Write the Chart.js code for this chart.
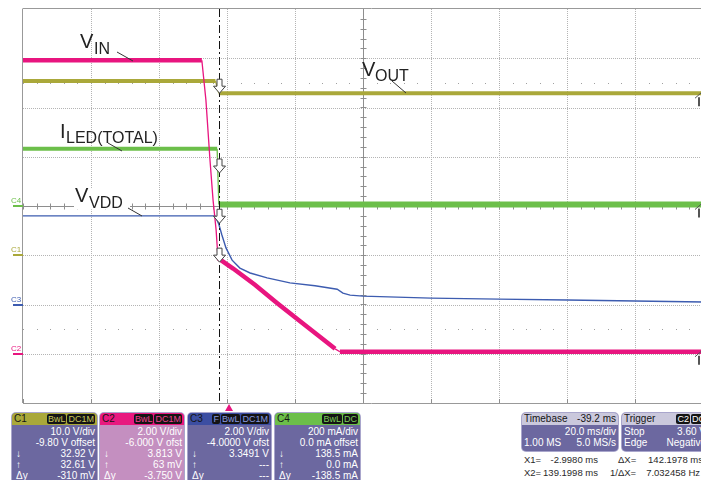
<!DOCTYPE html>
<html>
<head>
<meta charset="utf-8">
<script src="https://cdn.jsdelivr.net/npm/chart.js@4.4.0/dist/chart.umd.min.js"></script>
<style>
body { margin: 0; background: #fff; font-family: "Liberation Sans", Arial, sans-serif; }
#scope { position: relative; width: 701px; height: 480px; overflow: hidden; background: #fff; }
#plot { position: absolute; left: 0; top: 0; }
.panel { position: absolute; top: 413px; height: 75px; border-radius: 4px; overflow: hidden;
         font-size: 10px; color: #fff; background: #6c68a0; box-shadow: 0 0 0 1px #a9a6cc; }
.hdr { height: 12px; line-height: 12px; padding: 0 2px; display: flex; justify-content: space-between; color: #151515; margin-bottom: 1px; }
.row { height: 11px; line-height: 11px; padding: 0 2px 0 4px; display: flex; justify-content: space-between; }
.badge { background: #141414; border-radius: 2px; padding: 0 1px; margin-left: 1px; font-size: 9px; line-height: 10px; display: inline-block; }
.cur { position: absolute; font-size: 9.5px; line-height: 10px; color: #2a2a2a; white-space: nowrap; }
</style>
</head>
<body>
<div id="scope">
  <canvas id="plot" width="720" height="412"></canvas>

  <div class="panel" style="left:12px;width:85px;">
    <div class="hdr" style="background:#a9a83a;"><span>C1</span><span><span class="badge" style="color:#c9c85a">BwL</span><span class="badge" style="color:#c9c85a">DC1M</span></span></div>
    <div class="row"><span></span><span>10.0 V/div</span></div>
    <div class="row"><span></span><span>-9.80 V offset</span></div>
    <div class="row"><span>↓</span><span>32.92 V</span></div>
    <div class="row"><span>↑</span><span>32.61 V</span></div>
    <div class="row"><span>Δy</span><span>-310 mV</span></div>
  </div>
  <div class="panel" style="left:100px;width:84px;background:#c48fc0;">
    <div class="hdr" style="background:#e8197f;"><span>C2</span><span><span class="badge" style="color:#f0408f">BwL</span><span class="badge" style="color:#f0408f">DC1M</span></span></div>
    <div class="row"><span></span><span>2.00 V/div</span></div>
    <div class="row"><span></span><span>-6.000 V ofst</span></div>
    <div class="row"><span>↓</span><span>3.813 V</span></div>
    <div class="row"><span>↑</span><span>63 mV</span></div>
    <div class="row"><span>Δy</span><span>-3.750 V</span></div>
  </div>
  <div class="panel" style="left:188px;width:83px;">
    <div class="hdr" style="background:#3c4ea2;"><span>C3</span><span><span class="badge" style="color:#8a9ae0">F</span><span class="badge" style="color:#8a9ae0">BwL</span><span class="badge" style="color:#8a9ae0">DC1M</span></span></div>
    <div class="row"><span></span><span>2.00 V/div</span></div>
    <div class="row"><span></span><span>-4.0000 V ofst</span></div>
    <div class="row"><span>↓</span><span>3.3491 V</span></div>
    <div class="row"><span>↑</span><span>---</span></div>
    <div class="row"><span>Δy</span><span>---</span></div>
  </div>
  <div class="panel" style="left:275px;width:85px;">
    <div class="hdr" style="background:#6cbf4a;"><span>C4</span><span><span class="badge" style="color:#7cd05a">BwL</span><span class="badge" style="color:#7cd05a">DC</span></span></div>
    <div class="row"><span></span><span>200 mA/div</span></div>
    <div class="row"><span></span><span>0.0 mA offset</span></div>
    <div class="row"><span>↓</span><span>138.5 mA</span></div>
    <div class="row"><span>↑</span><span>0.0 mA</span></div>
    <div class="row"><span>Δy</span><span>-138.5 mA</span></div>
  </div>

  <div class="panel" style="left:522px;width:96px;height:38px;">
    <div class="hdr" style="background:#cac8dc;"><span>Timebase</span><span>-39.2 ms</span></div>
    <div class="row"><span></span><span>20.0 ms/div</span></div>
    <div class="row" style="padding-left:2px"><span>1.00 MS</span><span>5.0 MS/s</span></div>
  </div>
  <div class="panel" style="left:622px;width:86px;height:38px;">
    <div class="hdr" style="background:#cac8dc;"><span>Trigger</span><span><span class="badge" style="color:#fff">C2</span><span class="badge" style="color:#fff">DC</span></span></div>
    <div class="row" style="padding-left:2px"><span>Stop</span><span>3.60 V</span></div>
    <div class="row" style="padding-left:2px"><span>Edge</span><span>Negative</span></div>
  </div>

  <span class="cur" style="left:524px;top:455px;">X1=</span>
  <span class="cur" style="right:103px;top:455px;">-2.9980 ms</span>
  <span class="cur" style="left:618px;top:455px;">ΔX=</span>
  <span class="cur" style="right:-2px;top:455px;">142.1978 ms</span>
  <span class="cur" style="left:524px;top:468px;">X2=</span>
  <span class="cur" style="right:103px;top:468px;">139.1998 ms</span>
  <span class="cur" style="left:610px;top:468px;">1/ΔX=</span>
  <span class="cur" style="right:1px;top:468px;">7.032458 Hz</span>
</div>

<script>
// time in ms (20 ms/div, 10 div), values in screen divisions (0 = centre, +-4)
const xGrid = [0, 20, 40, 60, 80, 100, 120, 140, 160, 180, 200];
const yGrid = [-4, -3, -2, -1, 0, 1, 2, 3, 4];

const vinTime = [0, 52.6, 53.8, 55.0, 55.9, 56.8, 57.35, 61.8, 68.2, 74.7, 81.5, 87.4, 91.8, 93.2, 200];
const vinDiv  = [2.96, 2.96, 2.15, 0.93, 0.12, -0.49, -1.06, -1.27, -1.60, -1.97, -2.34, -2.66, -2.90, -2.96, -2.96];

const voutTime = [0, 56.6, 57.6, 200];
const voutDiv  = [2.54, 2.54, 2.29, 2.29];

const iledTime = [0, 57.1, 57.6, 200];
const iledDiv  = [1.16, 1.16, 0.03, 0.03];

const vddTime = [0, 56.5, 57.6, 58.5, 59.7, 61.5, 63.8, 66.8, 71.8, 78.5, 85.9, 92.4, 94.1, 96.2, 100, 120, 140, 160, 180, 200];
const vddDiv  = [-0.20, -0.20, -0.37, -0.59, -0.85, -1.10, -1.26, -1.36, -1.46, -1.56, -1.62, -1.69, -1.77, -1.81, -1.83, -1.87, -1.89, -1.91, -1.93, -1.95];

// channel ground markers on the left edge
const chMarkers = [
    { name: 'C4', div: 0, color: '#6cbf4a' },
    { name: 'C1', div: -1, color: '#aaa83a' },
    { name: 'C3', div: -2, color: '#3d5cb0' },
    { name: 'C2', div: -3, color: '#e8157f' }
];
// cursor crossing arrows (tip position)
const cursorTime = 57.6;
const cursorTips = [2.29, 0.67, -0.35, -1.14];
const rightMarks = [2.29, 0.03, -2.96];
const trigTime = 60.6;

function pts(t, v) {
    return t.map((x, i) => ({ x: x, y: v[i] }));
}

const scopeGrid = {
    id: 'scopeGrid',
    beforeDatasetsDraw(chart) {
        const { ctx, chartArea: a, scales: { x, y } } = chart;
        ctx.save();
        ctx.lineWidth = 1;
        // dotted grid
        ctx.strokeStyle = '#b4b4b4';
        ctx.setLineDash([1, 1]);
        xGrid.forEach((t) => {
            if (t === 0 || t === 100 || t === 200) return;
            const px = Math.round(x.getPixelForValue(t)) + 0.5;
            ctx.beginPath(); ctx.moveTo(px, a.top); ctx.lineTo(px, a.bottom); ctx.stroke();
        });
        yGrid.forEach((d) => {
            if (d === 0 || Math.abs(d) === 4) return;
            const py = Math.round(y.getPixelForValue(d)) + 0.5;
            ctx.beginPath(); ctx.moveTo(a.left, py); ctx.lineTo(a.right, py); ctx.stroke();
        });
        ctx.setLineDash([]);
        // sparse dot rows at +-2.5 div
        ctx.fillStyle = '#a0a0a0';
        [2.5, -2.5].forEach((d) => {
            const py = Math.round(y.getPixelForValue(d));
            for (let t = 0; t <= 200; t += 4) {
                const px = Math.round(x.getPixelForValue(t));
                ctx.fillRect(px, py, 1, 1);
            }
        });
        // centre axes with minor ticks
        ctx.strokeStyle = '#8e8e8e';
        const cx = Math.round(x.getPixelForValue(100)) + 0.5;
        const cy = Math.round(y.getPixelForValue(0)) + 0.5;
        ctx.beginPath(); ctx.moveTo(cx, a.top); ctx.lineTo(cx, a.bottom); ctx.stroke();
        ctx.beginPath(); ctx.moveTo(a.left, cy); ctx.lineTo(a.right, cy); ctx.stroke();
        for (let t = 0; t <= 200; t += 4) {
            const px = Math.round(x.getPixelForValue(t)) + 0.5;
            ctx.beginPath(); ctx.moveTo(px, cy - 3); ctx.lineTo(px, cy + 3); ctx.stroke();
            ctx.beginPath(); ctx.moveTo(px, a.bottom); ctx.lineTo(px, a.bottom - (t % 20 === 0 ? 4 : 0)); ctx.stroke();
        }
        for (let d = -4; d <= 4; d += 0.2) {
            const py = Math.round(y.getPixelForValue(d)) + 0.5;
            ctx.beginPath(); ctx.moveTo(cx - 3, py); ctx.lineTo(cx + 3, py); ctx.stroke();
        }
        // frame
        ctx.strokeStyle = '#999';
        const top = Math.round(a.top) - 0.5;
        ctx.beginPath(); ctx.moveTo(a.left, top); ctx.lineTo(chart.width, top); ctx.stroke();
        ctx.beginPath(); ctx.moveTo(a.left - 0.5, top); ctx.lineTo(a.left - 0.5, a.bottom); ctx.stroke();
        ctx.beginPath(); ctx.moveTo(a.left, a.bottom + 0.5); ctx.lineTo(chart.width, a.bottom + 0.5); ctx.stroke();

        // white box behind the VVDD label
        ctx.fillStyle = '#fff';
        ctx.fillRect(74, cy - 18, 56, 21);

        // channel markers
        ctx.font = '8px "Liberation Sans", Arial, sans-serif';
        ctx.textAlign = 'left';
        chMarkers.forEach((m) => {
            const py = Math.round(y.getPixelForValue(m.div));
            ctx.fillStyle = m.color;
            ctx.fillRect(13, py - 1, 10, 2);
            ctx.fillText(m.name, 11, py - 3);
        });
        ctx.restore();
    },
    afterDatasetsDraw(chart) {
        const { ctx, chartArea: a, scales: { x, y } } = chart;
        ctx.save();
        const cxp = Math.round(x.getPixelForValue(cursorTime)) + 0.5;
        // cursor line
        ctx.strokeStyle = '#111';
        ctx.lineWidth = 1;
        ctx.setLineDash([8, 3, 2, 3]);
        ctx.beginPath(); ctx.moveTo(cxp, a.top); ctx.lineTo(cxp, a.bottom); ctx.stroke();
        ctx.setLineDash([]);
        // crossing arrows
        ctx.fillStyle = '#fff';
        ctx.strokeStyle = '#444';
        cursorTips.forEach((d) => {
            const tip = y.getPixelForValue(d);
            ctx.beginPath();
            ctx.moveTo(cxp, tip);
            ctx.lineTo(cxp - 6, tip - 7);
            ctx.lineTo(cxp - 2.5, tip - 7);
            ctx.lineTo(cxp - 2.5, tip - 14);
            ctx.lineTo(cxp + 2.5, tip - 14);
            ctx.lineTo(cxp + 2.5, tip - 7);
            ctx.lineTo(cxp + 6, tip - 7);
            ctx.closePath();
            ctx.fill(); ctx.stroke();
        });
        // right edge markers
        ctx.strokeStyle = '#555';
        rightMarks.forEach((d) => {
            const py = y.getPixelForValue(d);
            ctx.lineWidth = 1;
            ctx.beginPath(); ctx.moveTo(703, py - 2); ctx.lineTo(695, py + 5); ctx.stroke();
            ctx.lineWidth = 2;
            ctx.beginPath(); ctx.moveTo(699, py + 4); ctx.lineTo(699, py + 13); ctx.stroke();
        });
        // trigger position marker
        const tx = x.getPixelForValue(trigTime);
        ctx.fillStyle = '#e8157f';
        ctx.beginPath();
        ctx.moveTo(tx, a.bottom + 1); ctx.lineTo(tx - 4, a.bottom + 8); ctx.lineTo(tx + 4, a.bottom + 8);
        ctx.closePath(); ctx.fill();

        // trace labels with leader lines
        const big = '20px "Liberation Sans", Arial, sans-serif';
        const sub = '16px "Liberation Sans", Arial, sans-serif';
        ctx.fillStyle = '#222';
        ctx.strokeStyle = '#333';
        ctx.lineWidth = 1;
        const label = (main, mx, my, s, sx, sy, l) => {
            ctx.font = big; ctx.fillText(main, mx, my);
            ctx.font = sub; ctx.fillText(s, sx, sy);
            ctx.beginPath(); ctx.moveTo(l[0], l[1]); ctx.lineTo(l[2], l[3]); ctx.stroke();
        };
        ctx.textAlign = 'left';
        label('V', 80, 48, 'IN', 94, 54, [117, 52, 133, 61]);
        label('V', 362, 76, 'OUT', 375, 81, [392, 81, 406, 93]);
        label('I', 60, 138, 'LED(TOTAL)', 66, 143, [108, 143, 122, 151]);
        label('V', 75, 202, 'VDD', 89, 208, [128, 208, 142, 216]);
        ctx.restore();
    }
};

const thin = (w) => (c) => (c.p1.parsed.x - c.p0.parsed.x < 2 ? 1.3 : w);

new Chart(document.getElementById('plot'), {
    type: 'line',
    data: {
        datasets: [
            { label: 'VIN', data: pts(vinTime, vinDiv), borderColor: '#e8157f', borderWidth: 4.5,
              segment: { borderWidth: thin(4.5) }, order: 1 },
            { label: 'VDD', data: pts(vddTime, vddDiv), borderColor: '#3d5cb0', borderWidth: 1.4, order: 2 },
            { label: 'ILED', data: pts(iledTime, iledDiv), borderColor: '#6cbf4a', borderWidth: 4,
              segment: { borderWidth: (c) => (c.p1.parsed.x - c.p0.parsed.x < 2 ? 1.3 : (c.p0.parsed.x > 50 ? 6 : 4)) }, order: 3 },
            { label: 'VOUT', data: pts(voutTime, voutDiv), borderColor: '#aaa83a', borderWidth: 4,
              segment: { borderWidth: thin(4) }, order: 4 }
        ]
    },
    options: {
        responsive: false,
        animation: false,
        layout: { padding: { left: 23, top: 9, right: 17, bottom: 9 } },
        elements: { point: { radius: 0 }, line: { tension: 0, borderCapStyle: 'butt' } },
        scales: {
            x: { type: 'linear', min: 0, max: 200, display: false },
            y: { type: 'linear', min: -4, max: 4, display: false }
        },
        plugins: { legend: { display: false }, tooltip: { enabled: false } }
    },
    plugins: [scopeGrid]
});
</script>
</body>
</html>
